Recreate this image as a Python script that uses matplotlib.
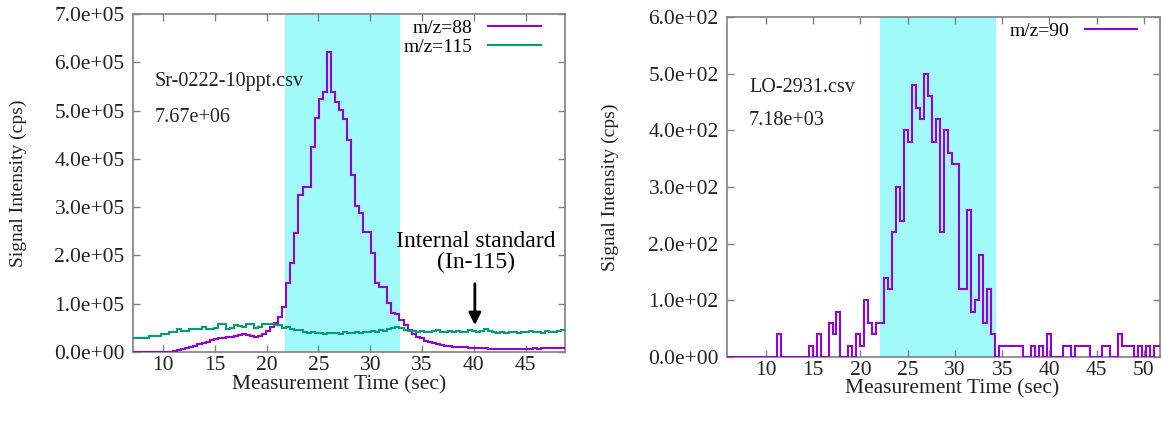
import numpy as np
import matplotlib
matplotlib.use("Agg")
import matplotlib.pyplot as plt
from matplotlib.ticker import FormatStrFormatter

plt.rcParams['font.family'] = ['Liberation Serif', 'DejaVu Serif']

# left panel: Sr-0222-10ppt.csv, step histogram, 0.39 s bins from 7.08 s
left_t0 = 7.08
left_dt = 0.39
sr88 = [
    0, 0, 0, 0, 0, 0, 0, 0, 0, 1000,
    3000, 4000, 6000, 8000, 10000, 13000, 16000, 18000, 21000, 24000,
    26000, 28000, 30000, 31000, 32000, 34000, 35000, 38000, 36000, 34000,
    32000, 33000, 38000, 44000, 51000, 60000, 72000, 93000, 143000, 185000,
    246000, 325000, 342000, 342000, 425000, 484000, 525000, 538000, 622000, 538000,
    518000, 501000, 482000, 440000, 366000, 303000, 287000, 249000, 249000, 206000,
    143000, 135000, 135000, 101000, 81000, 79000, 66000, 56000, 46000, 38000,
    32000, 28000, 23000, 20000, 18000, 16000, 14500, 13000, 12000, 11000,
    10000, 9600, 9500, 9000, 9000, 8000, 7600, 7500, 7000, 7000,
    6500, 6200, 6000, 6500, 6000, 7000, 6500, 6000, 7000, 7500,
    7000, 8000, 7500, 8000, 8500, 8000, 7500,
]
in115 = [
    28000, 29000, 30000, 30000, 33000, 33000, 34000, 37000, 37000, 41000,
    41000, 48000, 44000, 43000, 47000, 48000, 48000, 51000, 48000, 47000,
    49000, 58000, 57000, 48000, 49000, 56000, 53000, 51000, 58000, 57000,
    49000, 52000, 58000, 58000, 57000, 56000, 55000, 50000, 52000, 48000,
    46000, 45000, 42000, 39000, 41000, 39000, 40000, 38000, 40000, 39000,
    40000, 38000, 41000, 39000, 40000, 41000, 39000, 42000, 41000, 43000,
    42000, 45000, 44000, 47000, 49000, 51000, 49000, 46000, 44000, 43000,
    42000, 44000, 42000, 41000, 43000, 46000, 42000, 41000, 43000, 42000,
    44000, 41000, 42000, 45000, 43000, 42000, 44000, 47000, 43000, 41000,
    40000, 41000, 40000, 42000, 41000, 40000, 42000, 41000, 43000, 41000,
    42000, 40000, 43000, 42000, 41000, 44000, 46000,
]
left_window = (21.8, 32.9)

# right panel: LO-2931.csv, 0.42 s bins from 5.70 s
right_t0 = 5.70
right_dt = 0.42
lo90 = [
    0, 0, 0, 0, 0, 0, 0, 0, 0, 0,
    0, 0, 0, 40, 0, 0, 0, 0, 0, 0,
    0, 20, 0, 40, 0, 0, 60, 40, 80, 0,
    0, 20, 0, 40, 20, 100, 60, 40, 60, 60,
    140, 120, 220, 300, 240, 400, 380, 480, 440, 420,
    500, 460, 380, 420, 220, 400, 360, 340, 340, 120,
    120, 260, 80, 100, 180, 60, 120, 40, 0, 20,
    20, 20, 20, 20, 20, 0, 0, 20, 0, 20,
    0, 40, 0, 0, 0, 20, 20, 0, 20, 20,
    20, 20, 0, 0, 0, 20, 20, 0, 0, 40,
    20, 20, 20, 0, 20, 0, 20, 0, 20, 20,
]
right_window = (22.1, 34.35)

purple = '#9400d3'
green = '#009e73'
cyan = '#a0fafa'
grey = '#808080'
ink = '#222222'

fig = plt.figure(figsize=(11.63, 4.21), dpi=100)
ax1 = fig.add_axes([0.1144, 0.1639, 0.3714, 0.8028])
ax2 = fig.add_axes([0.6251, 0.152, 0.3723, 0.8076])


def style(ax):
    for s in ax.spines.values():
        s.set_color(grey)
        s.set_linewidth(1.2)
    ax.tick_params(direction='in', length=5, width=1, color=grey,
                   top=True, right=True, labelsize=15.5, labelcolor=ink)
    ax.tick_params(axis='x', pad=3)
    ax.tick_params(axis='y', pad=6)
    ax.yaxis.set_major_formatter(FormatStrFormatter('%.1e'))


# ---- left
edges = left_t0 + left_dt * np.arange(len(sr88) + 1)
ax1.axvspan(*left_window, color=cyan, lw=0, zorder=0)
ax1.stairs(sr88, edges, baseline=None, color=purple, lw=1.5, label='m/z=88', zorder=3)
ax1.stairs(in115, edges, baseline=None, color=green, lw=1.5, label='m/z=115', zorder=3)
ax1.set_xlim(7.1, 48.8)
ax1.set_ylim(0, 7e5)
ax1.set_xticks(range(10, 50, 5))
ax1.set_yticks(np.arange(0, 7.01e5, 1e5))
style(ax1)
ax1.set_xlabel('Measurement Time (sec)', fontsize=15.5, color=ink)
ax1.xaxis.set_label_coords(0.478, -0.068)
ax1.set_ylabel('Signal Intensity (cps)', fontsize=14, color=ink)
ax1.yaxis.set_label_coords(-0.245, 0.5)
ax1.text(0.051, 0.80, 'Sr-0222-10ppt.csv', transform=ax1.transAxes,
         fontsize=14.5, va='center', color=ink)
ax1.text(0.051, 0.695, '7.67e+06', transform=ax1.transAxes,
         fontsize=14.5, va='center', color=ink)
ax1.text(40.2, 2.07e5, 'Internal standard\n(In-115)', ha='center', va='center',
         fontsize=17, linespacing=1.0)
ax1.annotate('', xy=(40.1, 5.0e4), xytext=(40.1, 1.47e5),
             arrowprops=dict(arrowstyle='-|>', color='black', lw=2, mutation_scale=18))
ax1.legend(loc='upper right', bbox_to_anchor=(0.944, 0.985), frameon=False,
           markerfirst=False, fontsize=14, handlelength=2.7, handletextpad=0.8,
           labelspacing=0.1, borderpad=0, borderaxespad=0)

# ---- right
edges = right_t0 + right_dt * np.arange(len(lo90) + 1)
ax2.axvspan(*right_window, color=cyan, lw=0, zorder=0)
ax2.stairs(lo90, edges, baseline=None, color=purple, lw=1.5, label='m/z=90', zorder=3)
ax2.set_xlim(5.87, 51.7)
ax2.set_ylim(0, 600)
ax2.set_xticks(range(10, 55, 5))
ax2.set_yticks(np.arange(0, 601, 100))
style(ax2)
ax2.set_xlabel('Measurement Time (sec)', fontsize=15.5, color=ink)
ax2.xaxis.set_label_coords(0.52, -0.065)
ax2.set_ylabel('Signal Intensity (cps)', fontsize=14, color=ink)
ax2.yaxis.set_label_coords(-0.249, 0.5)
ax2.text(0.051, 0.794, 'LO-2931.csv', transform=ax2.transAxes,
         fontsize=14.5, va='center', color=ink)
ax2.text(0.051, 0.697, '7.18e+03', transform=ax2.transAxes,
         fontsize=14.5, va='center', color=ink)
ax2.legend(loc='upper right', bbox_to_anchor=(0.947, 0.985), frameon=False,
           markerfirst=False, fontsize=14, handlelength=2.7, handletextpad=0.8,
           borderpad=0, borderaxespad=0)

fig.savefig('out.png', dpi=100)
